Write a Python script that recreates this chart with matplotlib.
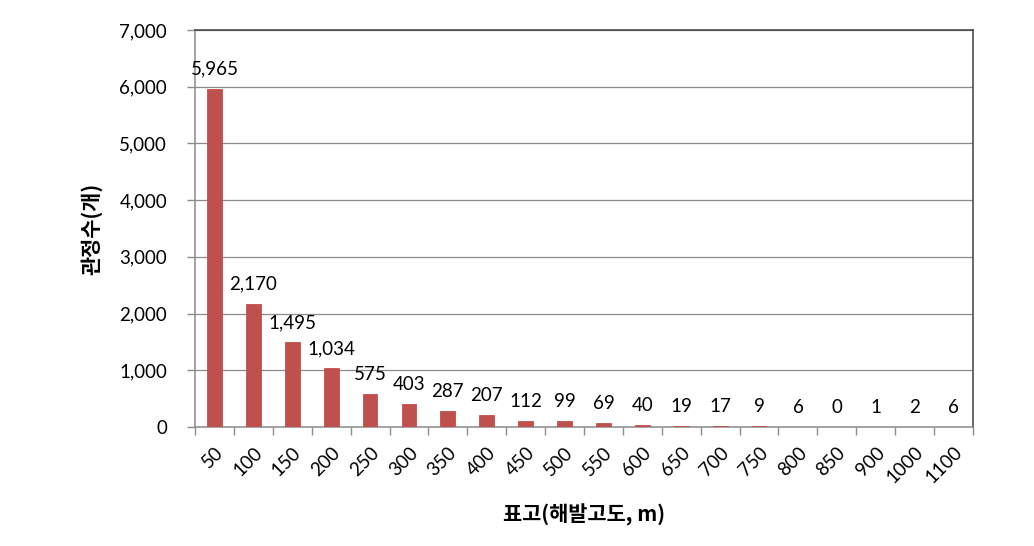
import numpy as np
import matplotlib
matplotlib.use('Agg')
import matplotlib.pyplot as plt

# elevation classes (m) and well counts
categories = ['50', '100', '150', '200', '250', '300', '350', '400', '450', '500',
              '550', '600', '650', '700', '750', '800', '850', '900', '1000', '1100']
counts = [5965, 2170, 1495, 1034, 575, 403, 287, 207, 112, 99,
          69, 40, 19, 17, 9, 6, 0, 1, 2, 6]

num_font = ['Lato', 'DejaVu Sans']
kr_font = ['Noto Sans CJK KR', 'DejaVu Sans']

fig = plt.figure(figsize=(10.34, 5.46), dpi=100)
ax = fig.add_axes([0.1886, 0.218, 0.7524, 0.727])

x = np.arange(len(categories))
# thin outline keeps the tiny bars visible, none for the empty class
edges = ['#C0504D' if v > 0 else 'none' for v in counts]
bars = ax.bar(x, counts, width=0.38, color='#C0504D', edgecolor=edges,
              linewidth=0.6, zorder=3)
ax.bar_label(bars, labels=[f'{v:,}' for v in counts], padding=8,
             fontsize=13.5, family=num_font, color='black')

ax.set_xlim(-0.5, len(categories) - 0.5)
ax.set_ylim(0, 7000)
ax.set_yticks(np.arange(0, 7001, 1000))
ax.set_yticklabels([f'{v:,}' for v in range(0, 7001, 1000)], family=num_font, fontsize=13.5)
ax.yaxis.grid(True, color='#8c8c8c', linewidth=0.9, zorder=0)

# category ticks sit between the bars
ax.set_xticks(np.arange(-0.5, len(categories), 1.0))
ax.set_xticklabels([])
ax.tick_params(axis='x', which='major', length=6, color='#8c8c8c', width=1)
ax.set_xticks(x, minor=True)
ax.set_xticklabels(categories, minor=True, rotation=45, ha='right', va='top',
                   rotation_mode='anchor', family=num_font, fontsize=13.5)
ax.tick_params(axis='x', which='minor', length=0, pad=12)
ax.tick_params(axis='y', length=6, color='#8c8c8c', width=1, pad=14)

ax.spines['left'].set_color('#8c8c8c')
ax.spines['bottom'].set_color('#8c8c8c')
ax.spines['top'].set_color('#404040')
ax.spines['right'].set_color('#404040')
for s in ax.spines.values():
    s.set_linewidth(1.1)

ax.set_ylabel('관정수(개)', family=kr_font, fontweight='bold', fontsize=15, labelpad=12)
ax.set_xlabel('표고(해발고도, m)', family=kr_font, fontweight='bold', fontsize=15, labelpad=12)

fig.savefig('out.png', dpi=100)
